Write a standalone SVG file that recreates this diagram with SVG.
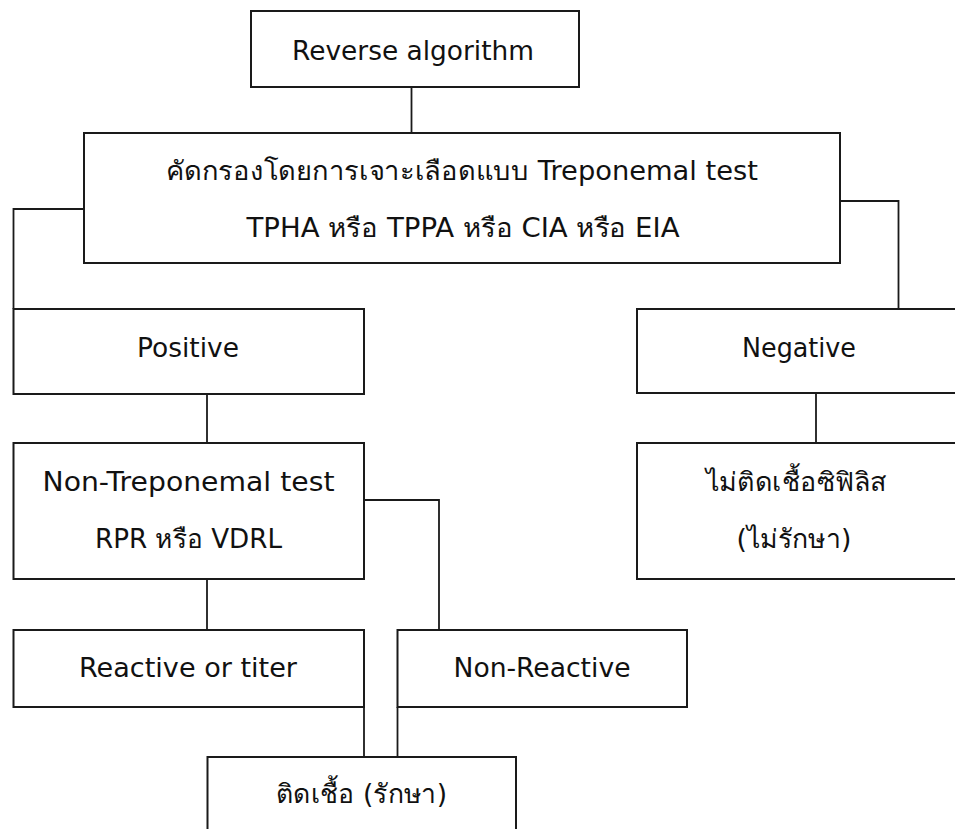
<svg xmlns="http://www.w3.org/2000/svg" width="955" height="829" viewBox="0 0 955 829">
<style>
.box{fill:#fff;stroke:#1a1a1a;stroke-width:2}
.con{fill:none;stroke:#1a1a1a;stroke-width:1.8}
text{font-family:"DejaVu Sans","Noto Sans",sans-serif;font-size:26px;fill:#111;text-anchor:middle}
</style>
<rect width="955" height="829" fill="#fff"/>
<g id="connectors">
<path class="con" d="M411.5 87V133"/>
<path class="con" d="M84 209H13.5V309"/>
<path class="con" d="M840 201H898.5V309"/>
<path class="con" d="M207 394V443"/>
<path class="con" d="M816 393V443"/>
<path class="con" d="M364 500H439V630"/>
<path class="con" d="M207 579V630"/>
<path class="con" d="M364 707V757"/>
<path class="con" d="M397.5 707V757"/>
</g>
<g id="reverse">
<rect class="box" x="251" y="11" width="328" height="76"/>
<text x="413" y="60" textLength="242" lengthAdjust="spacingAndGlyphs">Reverse algorithm</text>
</g>
<g id="screening">
<rect class="box" x="84" y="133" width="756" height="130"/>
<text x="462" y="180" textLength="592" lengthAdjust="spacingAndGlyphs">คัดกรองโดยการเจาะเลือดแบบ Treponemal test</text>
<text x="463" y="237" textLength="433" lengthAdjust="spacingAndGlyphs">TPHA หรือ TPPA หรือ CIA หรือ EIA</text>
</g>
<g id="positive">
<rect class="box" x="13.5" y="309" width="350.5" height="85"/>
<text x="188" y="357" textLength="102" lengthAdjust="spacingAndGlyphs">Positive</text>
</g>
<g id="negative">
<rect class="box" x="637" y="309" width="325" height="84"/>
<text x="799" y="357" textLength="114" lengthAdjust="spacingAndGlyphs">Negative</text>
</g>
<g id="nontreponemal">
<rect class="box" x="13.5" y="443" width="350.5" height="136"/>
<text x="188.5" y="491" textLength="292" lengthAdjust="spacingAndGlyphs">Non-Treponemal test</text>
<text x="188.5" y="548" textLength="187" lengthAdjust="spacingAndGlyphs">RPR หรือ VDRL</text>
</g>
<g id="notinfected">
<rect class="box" x="637" y="443" width="325" height="136"/>
<text x="796.5" y="491" textLength="181" lengthAdjust="spacingAndGlyphs">ไม่ติดเชื้อซิฟิลิส</text>
<text x="794" y="548" textLength="115" lengthAdjust="spacingAndGlyphs">(ไม่รักษา)</text>
</g>
<g id="reactive">
<rect class="box" x="13.5" y="630" width="350.5" height="77"/>
<text x="188" y="677" textLength="218" lengthAdjust="spacingAndGlyphs">Reactive or titer</text>
</g>
<g id="nonreactive">
<rect class="box" x="397.5" y="630" width="289.5" height="77"/>
<text x="542" y="677" textLength="177" lengthAdjust="spacingAndGlyphs">Non-Reactive</text>
</g>
<g id="infected">
<rect class="box" x="207.5" y="757" width="308.5" height="90"/>
<text x="361.5" y="803" textLength="171" lengthAdjust="spacingAndGlyphs">ติดเชื้อ (รักษา)</text>
</g>
</svg>
